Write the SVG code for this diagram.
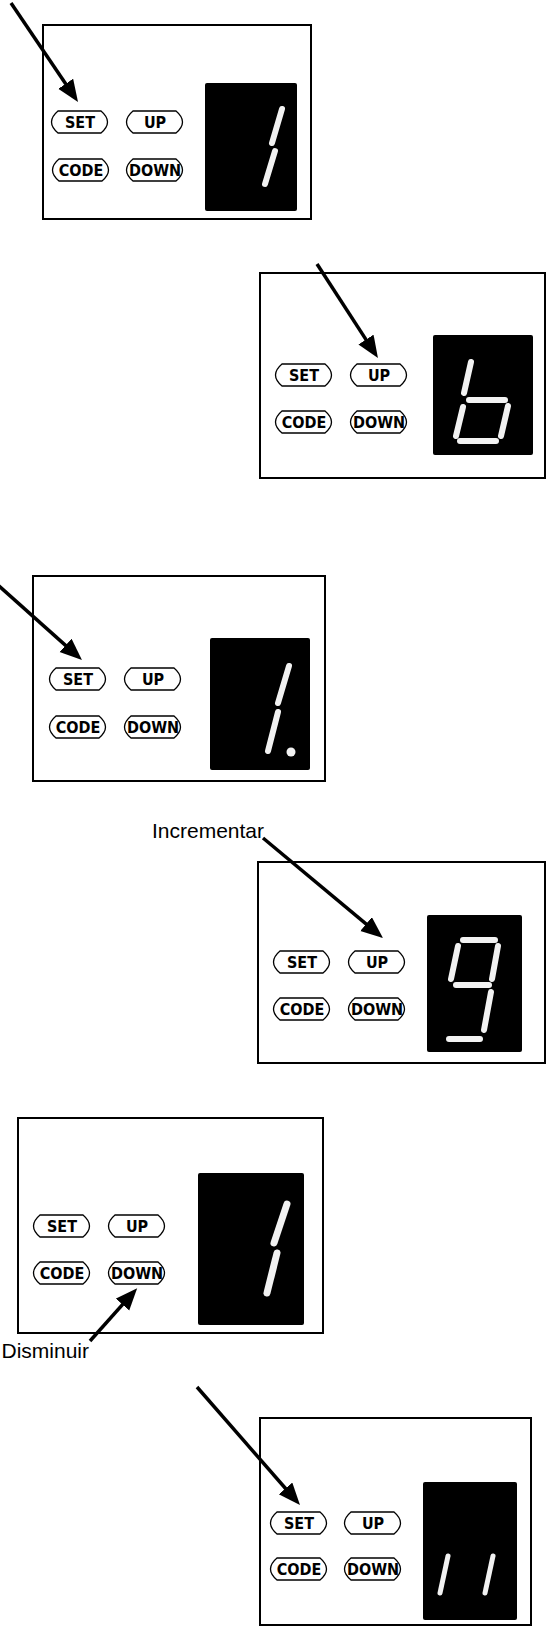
<svg xmlns="http://www.w3.org/2000/svg" xmlns:xlink="http://www.w3.org/1999/xlink" width="547" height="1627" viewBox="0 0 547 1627">
<style>
.panel{fill:#fff;stroke:#000;stroke-width:2}
.disp{fill:#000}
.btn{fill:#fff;stroke:#000;stroke-width:1.3}
.bt{font-family:'DejaVu Sans Condensed','DejaVu Sans',sans-serif;font-stretch:condensed;font-weight:bold;font-size:16px;fill:#000;text-anchor:middle}
.seg{stroke:#f2f2f2;stroke-width:6;stroke-linecap:round;fill:none}
.conn{stroke:#000;stroke-width:3.5;fill:none}
.lbl{font-family:'Liberation Sans',Arial,sans-serif;font-size:21px;fill:#000}
</style>
<defs>
<path id="btn" class="btn" d="M7,0 H50 Q63,11 50,22 H7 Q-6,11 7,0 Z"/>
<marker id="ah" markerUnits="userSpaceOnUse" markerWidth="24" markerHeight="20" refX="12" refY="9" orient="auto" viewBox="0 0 24 20">
<path d="M0,0 L22,9 L0,18 Z" fill="#000"/>
</marker>
</defs>
<rect width="547" height="1627" fill="#fff"/>

<g id="panel1">
<rect class="panel" x="43" y="25" width="268" height="194"/>
<use xlink:href="#btn" x="51" y="111"/><text class="bt" x="80" y="128">SET</text>
<use xlink:href="#btn" x="126" y="111"/><text class="bt" x="155" y="128">UP</text>
<use xlink:href="#btn" x="52" y="159"/><text class="bt" x="81" y="176">CODE</text>
<use xlink:href="#btn" x="126" y="159"/><text class="bt" x="155" y="176">DOWN</text>
<rect class="disp" x="205" y="83" width="92" height="128" rx="2"/>
<line class="seg" x1="282" y1="109" x2="272" y2="143"/>
<line class="seg" x1="275" y1="151" x2="265" y2="184"/>
</g>

<g id="panel2">
<rect class="panel" x="260" y="273" width="285" height="205"/>
<use xlink:href="#btn" x="275" y="364"/><text class="bt" x="304" y="381">SET</text>
<use xlink:href="#btn" x="350" y="364"/><text class="bt" x="379" y="381">UP</text>
<use xlink:href="#btn" x="275" y="411"/><text class="bt" x="304" y="428">CODE</text>
<use xlink:href="#btn" x="350" y="411"/><text class="bt" x="379" y="428">DOWN</text>
<rect class="disp" x="433" y="335" width="100" height="120" rx="2"/>
<line class="seg" x1="471" y1="362" x2="464" y2="393"/>
<line class="seg" x1="469" y1="400" x2="505" y2="400"/>
<line class="seg" x1="463" y1="407" x2="456" y2="436"/>
<line class="seg" x1="508" y1="406" x2="501" y2="436"/>
<line class="seg" x1="460" y1="441" x2="496" y2="441"/>
</g>

<g id="panel3">
<rect class="panel" x="33" y="576" width="292" height="205"/>
<use xlink:href="#btn" x="49" y="668"/><text class="bt" x="78" y="685">SET</text>
<use xlink:href="#btn" x="124" y="668"/><text class="bt" x="153" y="685">UP</text>
<use xlink:href="#btn" x="49" y="716"/><text class="bt" x="78" y="733">CODE</text>
<use xlink:href="#btn" x="124" y="716"/><text class="bt" x="153" y="733">DOWN</text>
<rect class="disp" x="210" y="638" width="100" height="132" rx="2"/>
<line class="seg" x1="289" y1="666" x2="278" y2="703"/>
<line class="seg" x1="278" y1="712" x2="268" y2="751"/>
<circle cx="291" cy="752" r="4.5" fill="#f2f2f2"/>
</g>

<g id="panel4">
<rect class="panel" x="258" y="862" width="287" height="201"/>
<use xlink:href="#btn" x="273" y="951"/><text class="bt" x="302" y="968">SET</text>
<use xlink:href="#btn" x="348" y="951"/><text class="bt" x="377" y="968">UP</text>
<use xlink:href="#btn" x="273" y="998"/><text class="bt" x="302" y="1015">CODE</text>
<use xlink:href="#btn" x="348" y="998"/><text class="bt" x="377" y="1015">DOWN</text>
<rect class="disp" x="427" y="915" width="95" height="137" rx="2"/>
<line class="seg" x1="463" y1="940" x2="495" y2="940"/>
<line class="seg" x1="458" y1="946" x2="451" y2="979"/>
<line class="seg" x1="498" y1="946" x2="492" y2="979"/>
<line class="seg" x1="456" y1="985" x2="489" y2="985"/>
<line class="seg" x1="491" y1="992" x2="484" y2="1030"/>
<line class="seg" x1="449" y1="1039" x2="480" y2="1039"/>
</g>

<g id="panel5">
<rect class="panel" x="18" y="1118" width="305" height="215"/>
<use xlink:href="#btn" x="33" y="1215"/><text class="bt" x="62" y="1232">SET</text>
<use xlink:href="#btn" x="108" y="1215"/><text class="bt" x="137" y="1232">UP</text>
<use xlink:href="#btn" x="33" y="1262"/><text class="bt" x="62" y="1279">CODE</text>
<use xlink:href="#btn" x="108" y="1262"/><text class="bt" x="137" y="1279">DOWN</text>
<rect class="disp" x="198" y="1173" width="106" height="152" rx="2"/>
<line class="seg" style="stroke-width:7" x1="287" y1="1204" x2="274" y2="1243"/>
<line class="seg" style="stroke-width:7" x1="277" y1="1253" x2="267" y2="1293"/>
</g>

<g id="panel6">
<rect class="panel" x="260" y="1418" width="271" height="207"/>
<use xlink:href="#btn" x="270" y="1512"/><text class="bt" x="299" y="1529">SET</text>
<use xlink:href="#btn" x="344" y="1512"/><text class="bt" x="373" y="1529">UP</text>
<use xlink:href="#btn" x="270" y="1558"/><text class="bt" x="299" y="1575">CODE</text>
<use xlink:href="#btn" x="344" y="1558"/><text class="bt" x="373" y="1575">DOWN</text>
<rect class="disp" x="423" y="1482" width="94" height="138" rx="2"/>
<line class="seg" style="stroke-width:5" x1="448" y1="1556" x2="440" y2="1593"/>
<line class="seg" style="stroke-width:5" x1="493" y1="1556" x2="485" y2="1593"/>
</g>

<g id="labels">
<text class="lbl" x="264" y="838" text-anchor="end">Incrementar</text>
<text class="lbl" x="89" y="1358" text-anchor="end">Disminuir</text>
</g>

<g id="connectors">
<line class="conn" marker-end="url(#ah)" x1="11" y1="3" x2="72.4" y2="93.7"/>
<line class="conn" marker-end="url(#ah)" x1="317" y1="264" x2="372.5" y2="349.6"/>
<line class="conn" marker-end="url(#ah)" x1="-2" y1="585" x2="74.5" y2="653.4"/>
<line class="conn" marker-end="url(#ah)" x1="263" y1="838" x2="375.3" y2="931.7"/>
<line class="conn" marker-end="url(#ah)" x1="90" y1="1341" x2="130.5" y2="1295.6"/>
<line class="conn" marker-end="url(#ah)" x1="197" y1="1387" x2="293.4" y2="1497.5"/>
</g>
</svg>
